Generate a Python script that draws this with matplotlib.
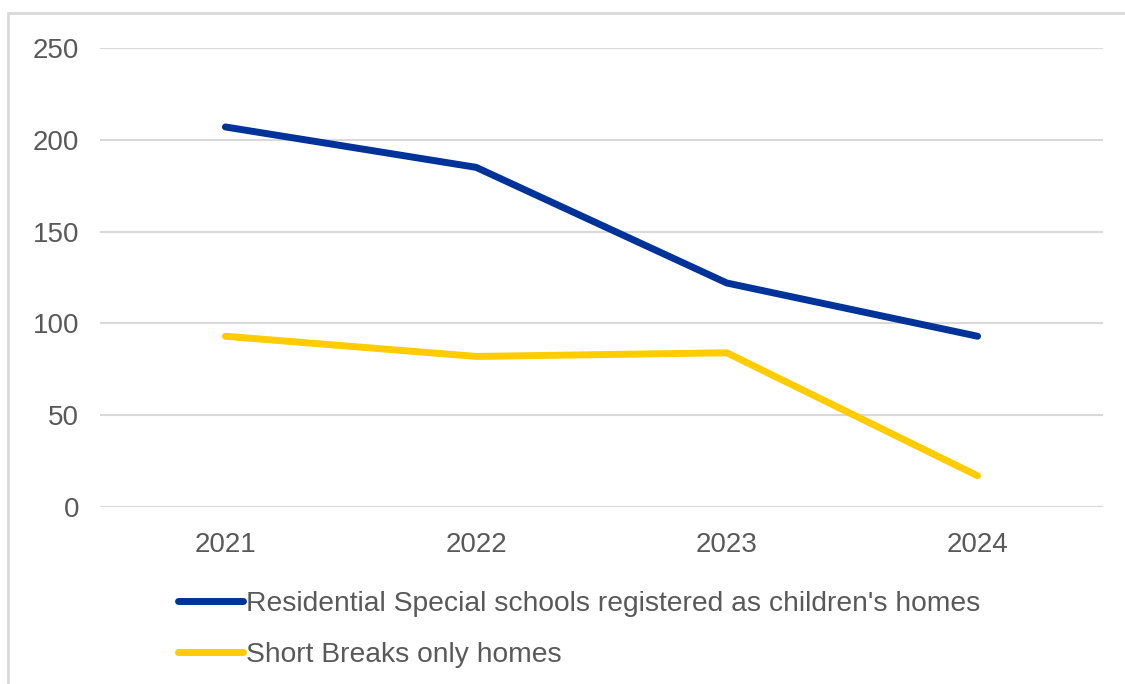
import matplotlib
matplotlib.use("Agg")
import matplotlib.pyplot as plt
from matplotlib.patches import Rectangle

# data
years = ["2021", "2022", "2023", "2024"]
residential_special = [207, 185, 122, 93]
short_breaks = [93, 82, 84, 17]
series_names = ["Residential Special schools registered as children's homes",
                "Short Breaks only homes"]

plt.rcParams['font.family'] = ['Liberation Sans', 'DejaVu Sans']
text_col = "#595959"
grid_col = "#d9d9d9"

fig = plt.figure(figsize=(11.25, 6.84), dpi=100)
ax = fig.add_axes([0.0889, 0.2588, 0.8915, 0.671])

x = range(len(years))
ax.plot(x, residential_special, color="#003399", lw=5, solid_capstyle="round",
        solid_joinstyle="round", label=series_names[0])
ax.plot(x, short_breaks, color="#FFCC00", lw=5, solid_capstyle="round",
        solid_joinstyle="round", label=series_names[1])

ax.set_xlim(-0.5, 3.5)
ax.set_ylim(0, 250)
ax.set_yticks([0, 50, 100, 150, 200, 250])
ax.set_xticks(list(x))
ax.set_xticklabels(years)
ax.grid(axis="y", color=grid_col, lw=1.5)
ax.set_axisbelow(True)
for s in ax.spines.values():
    s.set_visible(False)
ax.tick_params(axis="both", length=0, labelsize=20, colors=text_col)
ax.tick_params(axis="y", pad=15)
ax.tick_params(axis="x", pad=18)

leg = fig.legend(loc="upper left", bbox_to_anchor=(0.148, 0.152), frameon=False,
                 fontsize=20.3, handlelength=2.3, handletextpad=0.12,
                 labelspacing=0.88, borderaxespad=0)
for t in leg.get_texts():
    t.set_color(text_col)

# outer chart border
fig.patches.append(Rectangle((8 / 1125, -0.05), 1.1, 1 - 13 / 684 + 0.05,
                             transform=fig.transFigure, fill=False,
                             edgecolor=grid_col, lw=2, figure=fig))

fig.savefig("out.png", dpi=100)
